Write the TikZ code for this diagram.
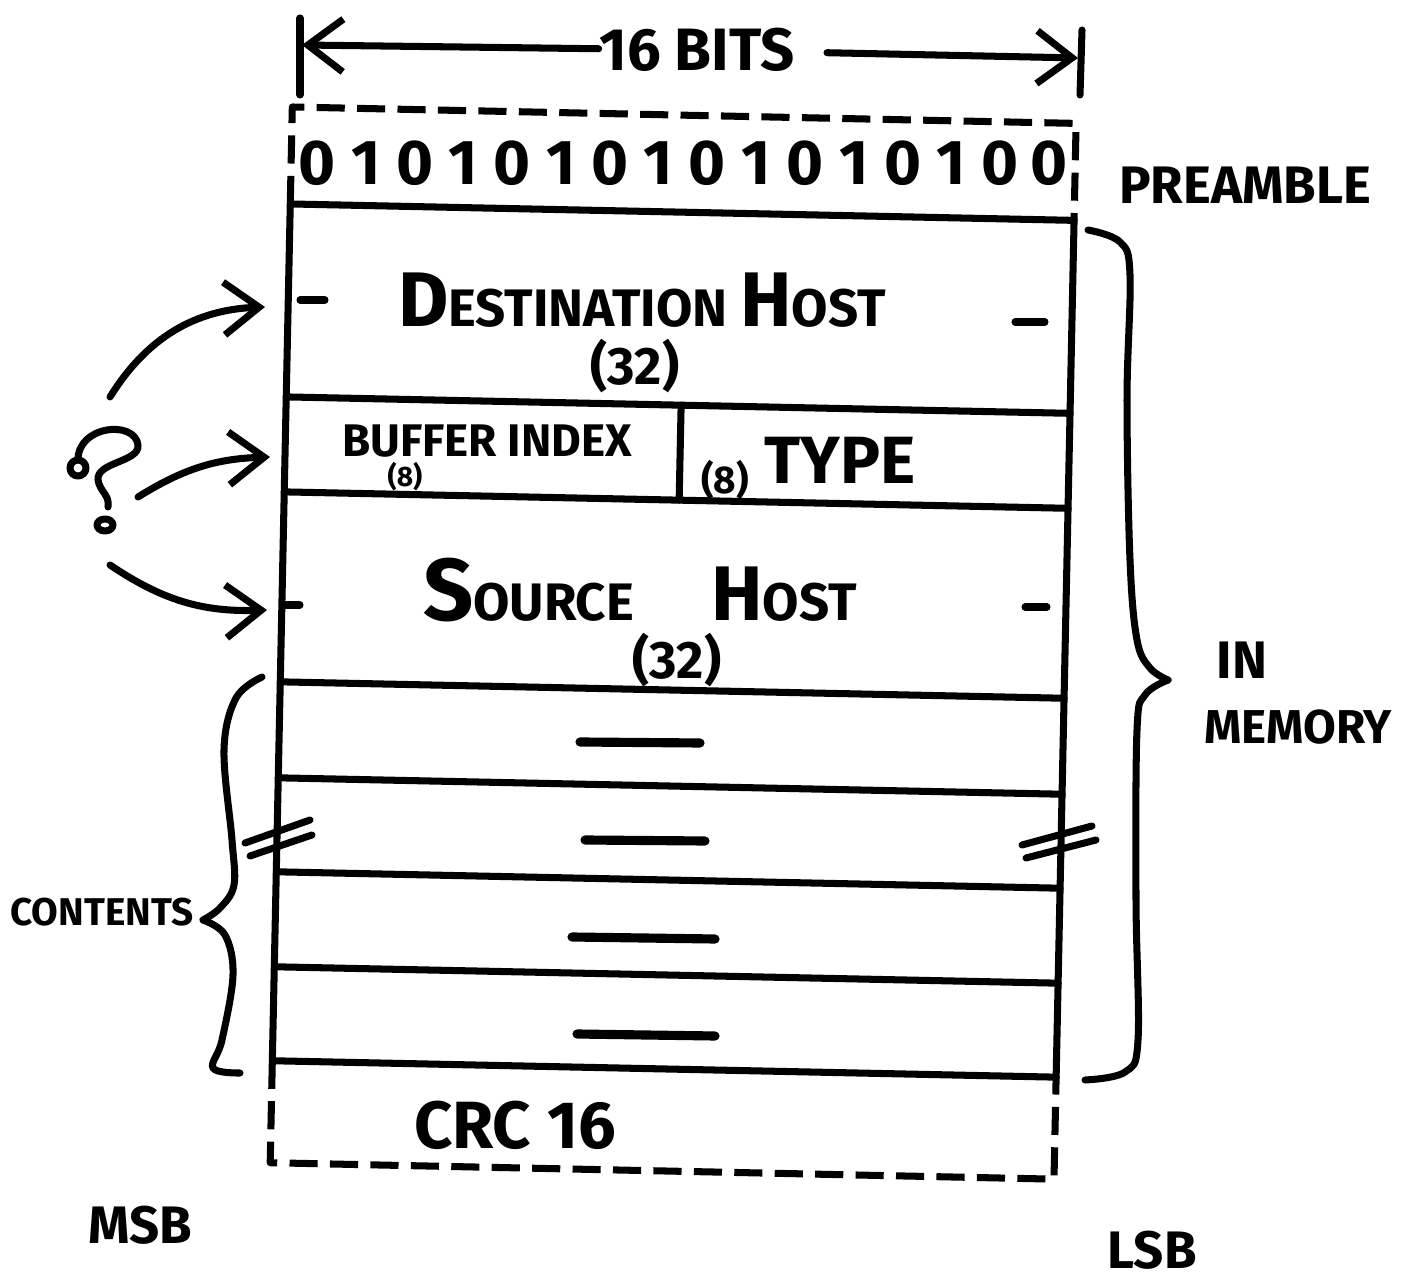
\documentclass[tikz,border=0pt]{standalone}
\usepackage{fontspec}
\setmainfont{Fira Sans}
\usetikzlibrary{arrows.meta,positioning}

\tikzset{
  pen/.style={line width=2pt,line cap=round,line join=round},
  dashedge/.style={pen,line cap=butt,dash pattern=on 8pt off 3.5pt},
  barb/.style={-{Straight Barb[length=10pt,width=15pt]}},
  lbl/.style={inner sep=0pt,font=\bfseries\fontsize{15}{15}\selectfont},
  tiny/.style={inner sep=0pt,font=\bfseries\fontsize{8}{8}\selectfont},
}
\newcommand\bigletter[1]{{\fontsize{22}{22}\selectfont #1}}

\begin{document}
\begin{tikzpicture}[x=0.01cm,y=-0.01cm]
\useasboundingbox (0,0) rectangle (1406,1283);

% the packet frame, drawn a little tilted
\begin{scope}[rotate around={-1.2:(670,650)},pen]
\draw (281,212) -- (281,1069);
\draw (1065,212) -- (1065,1069);
\foreach \y in {212,405,500,690,786,880,975,1069}
  \draw (281,\y) -- (1065,\y);
\draw (676,405) -- (676,500);
\draw[dashedge] (281,212) -- (281,115) -- (1065,115) -- (1065,212);
\draw[dashedge] (281,1069) -- (281,1171) -- (1065,1171) -- (1065,1069);
\end{scope}

% width of a word
\node[lbl,font=\bfseries\fontsize{17}{17}\selectfont] (bits) at (697,50) {16 BITS};
\coordinate (lt) at (302,45);
\coordinate (rt) at (1078,58);
\draw[pen] (300,18) -- (300,95);
\draw[pen] (1082,30) -- (1080,95);
\draw[pen,barb] (bits) -- (lt);
\draw[pen,barb,shorten <=9pt] (bits) -- (rt);

% preamble bits
\foreach \b [count=\i from 0] in {0,1,0,1,0,1,0,1,0,1,0,1,0,1,0,0}
  \node[lbl,font=\bfseries\fontsize{18}{18}\selectfont] (b\i) at (317+48.8*\i,163) {\b};
\node[lbl] (pre) at (1245,185) {PREAMBLE};

% header fields
\node[lbl] (dst) at (642,300) {\bigletter{D}ESTINATION \bigletter{H}OST};
\node[lbl] (dstn) at (635,366) {(32)};
\draw[pen] (300,300) -- (325,300);
\draw[pen] (1015,322) -- (1045,322);
\node[lbl,font=\bfseries\fontsize{13}{13}\selectfont] (buf) at (487,441) {BUFFER INDEX};
\node[tiny] (bufn) at (405,477) {(8)};
\node[tiny,font=\bfseries\fontsize{11}{11}\selectfont] (typn) at (725,480) {(8)};
\node[lbl,font=\bfseries\fontsize{19}{19}\selectfont] (typ) at (840,460) {TYPE};
\node[lbl] (src) at (640,590) {{\fontsize{25}{25}\selectfont S}OURCE\hspace{22pt}\bigletter{H}OST};
\node[lbl] (srcn) at (677,660) {(32)};
\draw[pen] (283,605) -- (300,605);
\draw[pen] (1025,607) -- (1047,607);

% data words
\draw[pen,line width=2.6pt] (580,742) -- (700,743);
\draw[pen,line width=2.6pt] (585,840) -- (705,841);
\draw[pen,line width=2.6pt] (572,937) -- (715,939);
\draw[pen,line width=2.6pt] (577,1034) -- (715,1036);

% break marks
\draw[pen] (245,843) -- (310,820);
\draw[pen] (250,856) -- (312,835);
\draw[pen] (1022,845) -- (1092,826);
\draw[pen] (1026,858) -- (1096,840);

\node[lbl,font=\bfseries\fontsize{19}{19}\selectfont] (crc) at (515,1125) {CRC 16};

% braces
\draw[pen] plot[smooth,tension=0.6] coordinates {(262,677) (236,698) (224,750) (232,840) (234,885) (220,908) (203,920)};
\draw[pen] plot[smooth,tension=0.6] coordinates {(203,920) (225,935) (233,975) (222,1040) (213,1068) (240,1073)};
\node[lbl,font=\bfseries\fontsize{11}{11}\selectfont] (cont) at (102,912) {CONTENTS};
\draw[pen] plot[smooth,tension=0.6] coordinates {(1088,230) (1120,242) (1130,275) (1127,400) (1130,560) (1137,640) (1150,668) (1168,680)};
\draw[pen] plot[smooth,tension=0.6] coordinates {(1168,680) (1145,695) (1137,730) (1136,900) (1138,1040) (1125,1072) (1085,1080)};
\node[lbl] (in) at (1242,660) {IN};
\node[lbl,font=\bfseries\fontsize{13.5}{13.5}\selectfont] (mem) at (1298,727) {MEMORY};

% the question and its arrows
\draw[pen] (78,468) ellipse [x radius=8,y radius=8];
\draw[pen] (78,460) .. controls (78,425) and (135,420) .. (138,445)
  .. controls (140,462) and (96,462) .. (98,480)
  .. controls (100,492) and (110,495) .. (108,507);
\draw[pen] (105,525) ellipse [x radius=8,y radius=6];
\coordinate (q1) at (110,397);
\coordinate (q2) at (138,497);
\coordinate (q3) at (110,565);
\coordinate (f1) at (265,307);
\coordinate (f2) at (270,457);
\coordinate (f3) at (267,610);
\draw[pen,barb] (q1) to[bend left=28] (f1);
\draw[pen,barb] (q2) to[bend left=15] (f2);
\draw[pen,barb] (q3) to[bend right=18] (f3);

\node[lbl] (msb) at (140,1225) {MSB};
\node[lbl] (lsb) at (1152,1250) {LSB};
\end{tikzpicture}
\end{document}
